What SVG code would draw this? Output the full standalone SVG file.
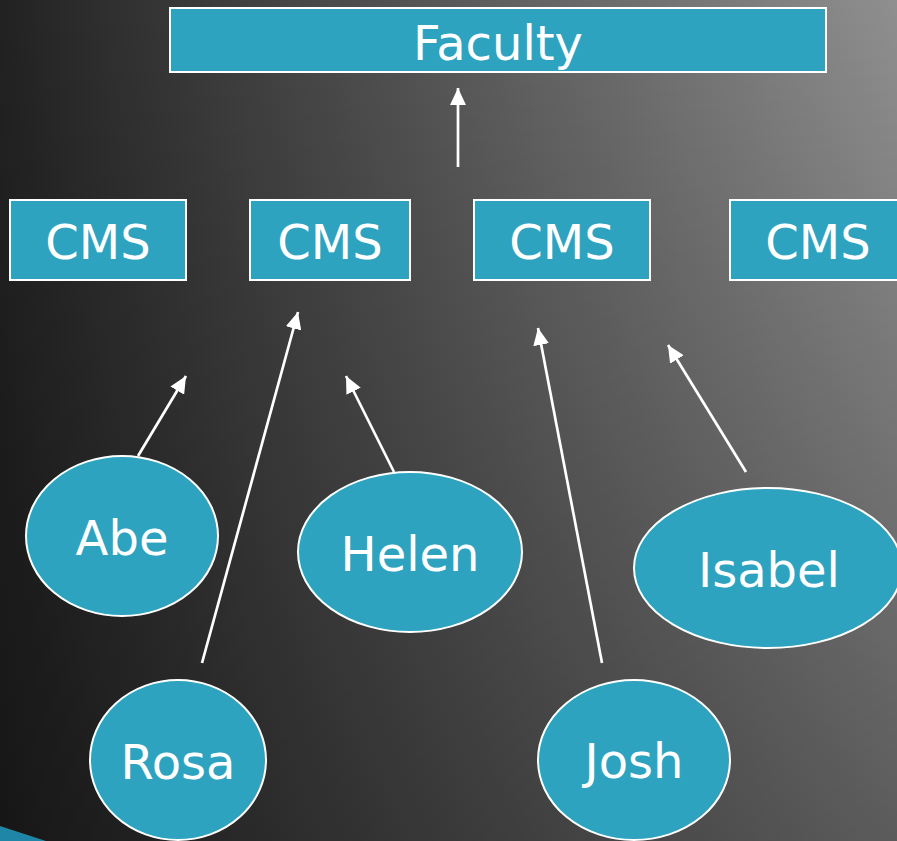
<svg xmlns="http://www.w3.org/2000/svg" width="897" height="841" viewBox="0 0 897 841">
  <defs>
    <linearGradient id="bgH" x1="0" y1="0" x2="1" y2="0">
      <stop offset="0" stop-color="#222222"/>
      <stop offset="1" stop-color="#8f8f8f"/>
    </linearGradient>
    <linearGradient id="bgV" x1="0" y1="0" x2="0" y2="1">
      <stop offset="0" stop-color="#000" stop-opacity="0"/>
      <stop offset="1" stop-color="#000" stop-opacity="0.36"/>
    </linearGradient>
    <marker id="arrow" markerUnits="userSpaceOnUse" markerWidth="18" markerHeight="16" refX="17" refY="8" orient="auto">
      <path d="M0,0 L17,8 L0,16 z" fill="#ffffff"/>
    </marker>
    <style>
      .box { fill: #2da3bf; stroke: #ffffff; stroke-width: 2; }
      .node { fill: #2da3bf; stroke: #ffffff; stroke-width: 2; }
      .lbl { font-family: "DejaVu Sans", Verdana, sans-serif; font-size: 48px; fill: #ffffff; text-anchor: middle; }
      .conn { stroke: #ffffff; stroke-width: 2.7; fill: none; marker-end: url(#arrow); }
    </style>
  </defs>

  <rect x="0" y="0" width="897" height="841" fill="url(#bgH)"/>
  <rect x="0" y="0" width="897" height="841" fill="url(#bgV)"/>
  <polygon points="0,826 46,841 0,841" fill="#1f86a8"/>

  <g id="faculty">
    <rect class="box" x="170" y="8" width="656" height="64"/>
    <text class="lbl" x="498" y="60">Faculty</text>
  </g>
  <g id="cms1">
    <rect class="box" x="10" y="200" width="176" height="80"/>
    <text class="lbl" x="98" y="259">CMS</text>
  </g>
  <g id="cms2">
    <rect class="box" x="250" y="200" width="160" height="80"/>
    <text class="lbl" x="330" y="259">CMS</text>
  </g>
  <g id="cms3">
    <rect class="box" x="474" y="200" width="176" height="80"/>
    <text class="lbl" x="562" y="259">CMS</text>
  </g>
  <g id="cms4">
    <rect class="box" x="730" y="200" width="176" height="80"/>
    <text class="lbl" x="818" y="259">CMS</text>
  </g>

  <g id="connectors">
    <line class="conn" x1="458" y1="167" x2="458" y2="88"/>
    <line class="conn" x1="138" y1="456" x2="186" y2="376"/>
    <line class="conn" x1="202" y1="663" x2="298" y2="312"/>
    <line class="conn" x1="394" y1="472" x2="346" y2="376"/>
    <line class="conn" x1="602" y1="663" x2="538" y2="328"/>
    <line class="conn" x1="746" y1="472" x2="668" y2="345"/>
  </g>

  <g id="abe">
    <ellipse class="node" cx="122" cy="536" rx="96" ry="80"/>
    <text class="lbl" x="122" y="555">Abe</text>
  </g>
  <g id="helen">
    <ellipse class="node" cx="410" cy="552" rx="112" ry="80"/>
    <text class="lbl" x="410" y="571">Helen</text>
  </g>
  <g id="isabel">
    <ellipse class="node" cx="768" cy="568" rx="134" ry="80"/>
    <text class="lbl" x="769" y="587">Isabel</text>
  </g>
  <g id="rosa">
    <ellipse class="node" cx="178" cy="760" rx="88" ry="80"/>
    <text class="lbl" x="178" y="779">Rosa</text>
  </g>
  <g id="josh">
    <ellipse class="node" cx="634" cy="760" rx="96" ry="80"/>
    <text class="lbl" x="634" y="778">Josh</text>
  </g>
</svg>
